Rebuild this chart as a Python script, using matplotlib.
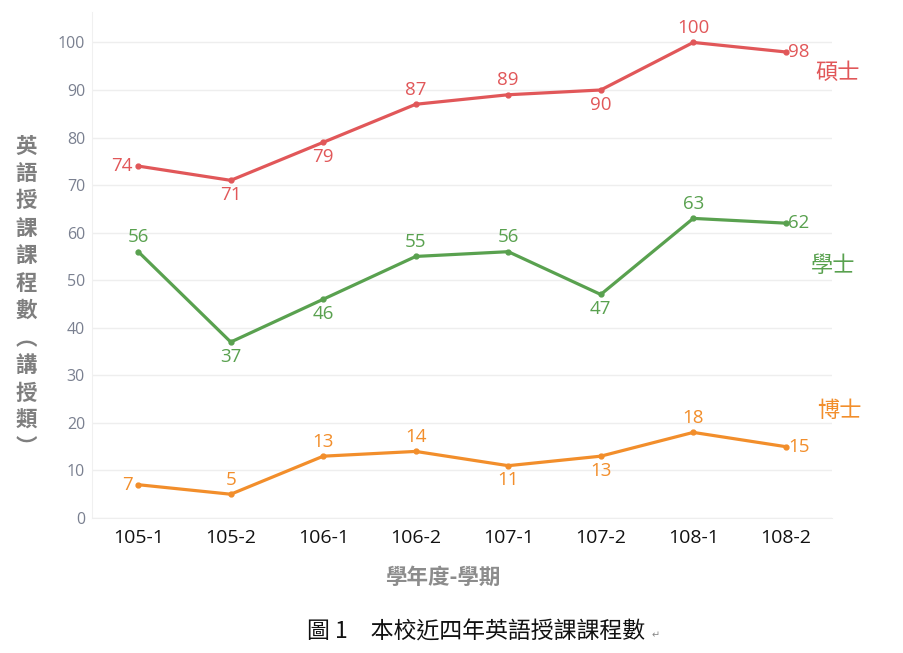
import matplotlib
matplotlib.use("Agg")
import matplotlib.pyplot as plt
import matplotlib.transforms as mtransforms

plt.rcParams['font.family'] = ['Noto Sans CJK TC', 'DejaVu Sans']

terms = ["105-1", "105-2", "106-1", "106-2", "107-1", "107-2", "108-1", "108-2"]
master = [74, 71, 79, 87, 89, 90, 100, 98]
bachelor = [56, 37, 46, 55, 56, 47, 63, 62]
doctor = [7, 5, 13, 14, 11, 13, 18, 15]

master_pos = ["left", "below", "below", "above", "above", "below", "above", "right"]
bachelor_pos = ["above", "below", "below", "above", "above", "below", "above", "right"]
doctor_pos = ["left", "above", "above", "above", "below", "below", "above", "right"]

series = [
    ("碩士", master, master_pos, "#e15759", (7.565, 93.6)),
    ("學士", bachelor, bachelor_pos, "#59a14f", (7.51, 53.0)),
    ("博士", doctor, doctor_pos, "#f28e2b", (7.58, 22.7)),
]

fig = plt.figure(figsize=(9.04, 6.53), dpi=100)
ax = fig.add_axes([92/904, 1-518/653, (832-92)/904, (518-12)/653])

x = list(range(len(terms)))
offsets = {"left": (-4, 0, "right", "center"),
           "right": (1.5, 0, "left", "center"),
           "above": (0, 4, "center", "bottom"),
           "below": (0, -4, "center", "top")}

for name, vals, poss, color, npos in series:
    ax.plot(x, vals, color=color, lw=2.3, marker='o', ms=3.5, zorder=3)
    for xi, v, p in zip(x, vals, poss):
        dx, dy, ha, va = offsets[p]
        ax.annotate(str(v), (xi, v), xytext=(dx, dy), textcoords="offset points",
                    ha=ha, va=va, color=color, fontsize=13.5, family=['Open Sans', 'DejaVu Sans'])
    ax.text(npos[0], npos[1], name, color=color, fontsize=16, ha="center", va="center",
            fontweight="medium", clip_on=False)

ax.set_xlim(-0.5, 7.5)
ax.set_ylim(0, 106.4)
ax.set_xticks(x)
ax.set_xticklabels(terms, fontsize=14, color="#111111", family=['Open Sans', 'DejaVu Sans'])
yt = list(range(0, 101, 10))
ax.set_yticks(yt)
ax.set_yticklabels([str(v) for v in yt], fontsize=11.5, color="#7a8090",
                   family=['Open Sans', 'DejaVu Sans'])
# shift the "0" label up slightly as in the reference
lbl0 = ax.get_yticklabels()[0]
lbl0.set_transform(lbl0.get_transform() + mtransforms.ScaledTranslation(0, 10/100, fig.dpi_scale_trans))

ax.tick_params(axis='both', length=0)
ax.tick_params(axis='y', pad=5)
ax.tick_params(axis='x', pad=8)
ax.grid(axis='y', color="#eeeeee", lw=1)
ax.set_axisbelow(True)
for s in ["top", "right"]:
    ax.spines[s].set_visible(False)
ax.spines["left"].set_color("#f0f0f0")
ax.spines["bottom"].set_color("#eeeeee")

ylabel = "\n".join(list("英語授課課程數") + ["︵", "講", "授", "類", "︶"])
fig.text(26/904, 1-297/653, ylabel, ha="center", va="center", fontsize=15.5,
         fontweight="bold", color="#7f7f7f", linespacing=1.38)

fig.text(443/904, 1-577/653, "學年度-學期", ha="center", va="center", fontsize=15.5,
         fontweight="bold", color="#8c8c8c")

fig.text(476/904, 1-632/653, "圖 1　本校近四年英語授課課程數", ha="center", va="center",
         fontsize=16.5, color="#111111")
fig.text(656/904, 1-635/653, "↵", ha="center", va="center", fontsize=7, color="#888888",
         family=['DejaVu Sans'])

fig.savefig("out.png", dpi=100)
